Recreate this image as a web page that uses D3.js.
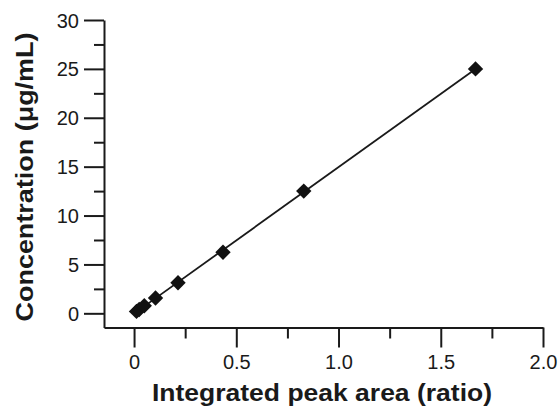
<!DOCTYPE html>
<html lang="en">
<head>
  <meta charset="UTF-8">
  <title>Calibration curve</title>
  <script src="https://d3js.org/d3.v7.min.js"></script>
  <style>
    body { margin: 0; background: #fff; }
  </style>
</head>
<body>
  <script>
    // Data
    const area = [0.012, 0.025, 0.05, 0.105, 0.215, 0.435, 0.83, 1.67];
    const conc = [0.195, 0.39, 0.78, 1.5625, 3.125, 6.25, 12.5, 25];
    const xTicks = [0, 0.5, 1.0, 1.5, 2.0];
    const xMinor = [0.25, 0.75, 1.25, 1.75];
    const yTicks = [0, 5, 10, 15, 20, 25, 30];
    const yMinor = [2.5, 7.5, 12.5, 17.5, 22.5, 27.5];

    const points = area.map((a, i) => ({ x: a, y: conc[i] }));
    const font = "'Liberation Sans', Arial, Helvetica, sans-serif";
    const ink = "#1a1a1a";

    const width = 558, height = 408;
    const svg = d3.select("body").append("svg")
      .attr("width", width)
      .attr("height", height);

    const x = d3.scaleLinear().domain([-0.147, 2.0]).range([104, 543]);
    const y = d3.scaleLinear().domain([-1.45, 30]).range([327.5, 20]);

    function styleAxis(g) {
      g.selectAll("path, line").attr("stroke", ink).attr("stroke-width", 2);
      g.selectAll("text")
        .attr("fill", ink)
        .style("font-family", font)
        .style("font-size", "20px");
    }

    // minor ticks
    svg.append("g")
      .attr("transform", "translate(0,327.5)")
      .call(d3.axisBottom(x).tickValues(xMinor).tickSize(11).tickFormat(""))
      .call(styleAxis)
      .select(".domain").remove();
    svg.append("g")
      .attr("transform", "translate(104,0)")
      .call(d3.axisLeft(y).tickValues(yMinor).tickSize(10).tickFormat(""))
      .call(styleAxis)
      .select(".domain").remove();

    // major axes
    svg.append("g")
      .attr("transform", "translate(0,327.5)")
      .call(d3.axisBottom(x).tickValues(xTicks).tickSize(20).tickSizeOuter(0)
        .tickFormat(d => d === 0 ? "0" : d3.format(".1f")(d)))
      .call(styleAxis)
      .selectAll("text").attr("y", 27).attr("dy", "0.71em");

    svg.append("g")
      .attr("transform", "translate(104,0)")
      .call(d3.axisLeft(y).tickValues(yTicks).tickSize(20).tickSizeOuter(0))
      .call(styleAxis)
      .selectAll("text").attr("x", -25).attr("dy", "0.35em");

    // regression line
    const mx = d3.mean(points, d => d.x), my = d3.mean(points, d => d.y);
    const slope = d3.sum(points, d => (d.x - mx) * (d.y - my)) / d3.sum(points, d => (d.x - mx) ** 2);
    const icpt = my - slope * mx;
    const ext = d3.extent(area);
    svg.append("line")
      .attr("x1", x(ext[0])).attr("y1", y(icpt + slope * ext[0]))
      .attr("x2", x(ext[1])).attr("y2", y(icpt + slope * ext[1]))
      .attr("stroke", ink)
      .attr("stroke-width", 1.8);

    // diamonds
    svg.selectAll(".pt")
      .data(points)
      .enter()
      .append("path")
      .attr("class", "pt")
      .attr("d", d3.symbol().type(d3.symbolSquare).size(118))
      .attr("transform", d => `translate(${x(d.x)},${y(d.y)}) rotate(45)`)
      .attr("fill", "#111");

    // axis titles
    svg.append("text")
      .attr("x", 322).attr("y", 401)
      .attr("text-anchor", "middle")
      .attr("textLength", 340)
      .attr("lengthAdjust", "spacingAndGlyphs")
      .attr("fill", ink)
      .style("font-family", font)
      .style("font-weight", "bold")
      .style("font-size", "24px")
      .text("Integrated peak area (ratio)");

    svg.append("text")
      .attr("transform", "translate(33,177) rotate(-90)")
      .attr("text-anchor", "middle")
      .attr("textLength", 289)
      .attr("lengthAdjust", "spacingAndGlyphs")
      .attr("fill", ink)
      .style("font-family", font)
      .style("font-weight", "bold")
      .style("font-size", "24px")
      .text("Concentration (μg/mL)");
  </script>
</body>
</html>
